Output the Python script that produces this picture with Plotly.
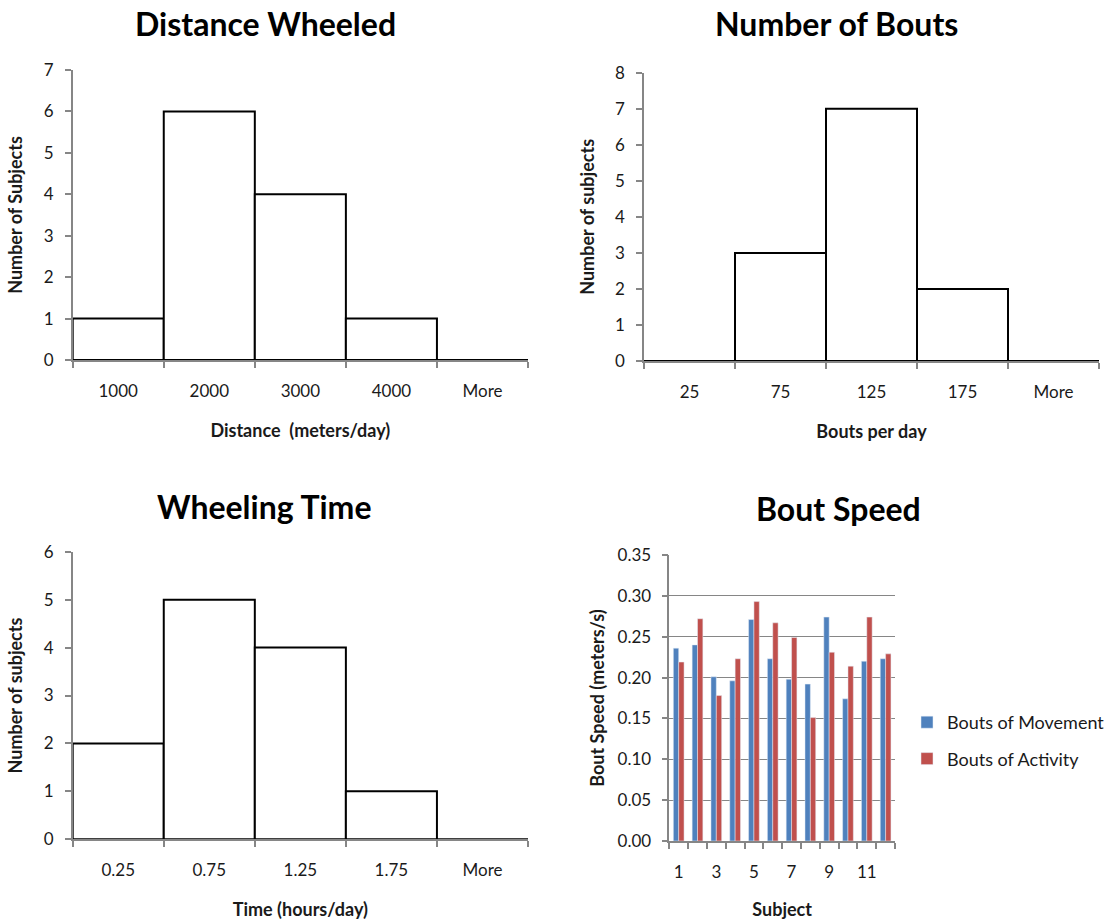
import plotly.graph_objects as go

# ---------------- data ----------------
dist_bins = ["1000", "2000", "3000", "4000", "More"]
dist_counts = [1, 6, 4, 1, 0]

bouts_bins = ["25", "75", "125", "175", "More"]
bouts_counts = [0, 3, 7, 2, 0]

time_bins = ["0.25", "0.75", "1.25", "1.75", "More"]
time_counts = [2, 5, 4, 1, 0]

subjects = ["1", "2", "3", "4", "5", "6", "7", "8", "9", "10", "11", "12"]
subject_labels = ["1", "", "3", "", "5", "", "7", "", "9", "", "11", ""]
movement_speed = [0.236, 0.240, 0.201, 0.196, 0.271, 0.223, 0.198, 0.192, 0.274, 0.174, 0.220, 0.223]
activity_speed = [0.219, 0.272, 0.178, 0.223, 0.293, 0.267, 0.249, 0.151, 0.231, 0.214, 0.274, 0.229]

FONT = "Lato, 'Open Sans', sans-serif"
TXT = "#1a1a1a"
AX = "#868686"
FW, FH = 1107, 923

def px_x(a, b):
    return [a / FW, b / FW]

def px_y(top, bottom):
    return [1 - bottom / FH, 1 - top / FH]

fig = go.Figure()

hist_specs = [
    ("x", "y", dist_bins, dist_counts),
    ("x2", "y2", bouts_bins, bouts_counts),
    ("x3", "y3", time_bins, time_counts),
]
for xa, ya, bins, counts in hist_specs:
    fig.add_trace(go.Bar(
        x=bins, y=counts, xaxis=xa, yaxis=ya,
        marker=dict(color="white", line=dict(color="black", width=2)),
        width=1.0, showlegend=False, hoverinfo="x+y",
    ))

fig.add_trace(go.Bar(
    x=subjects, y=movement_speed, xaxis="x4", yaxis="y4",
    name="Bouts of Movement", marker=dict(color="#4F81BD"),
    legendgroup="a",
))
fig.add_trace(go.Bar(
    x=subjects, y=activity_speed, xaxis="x4", yaxis="y4",
    name="Bouts of Activity", marker=dict(color="#C0504D"),
    legendgroup="b",
))

tickfont = dict(family=FONT, size=17, color=TXT)
titlefont = dict(family=FONT, size=18, color=TXT, weight="bold")

def hist_xaxis(domain, anchor, title):
    return dict(
        domain=domain, anchor=anchor, type="category", automargin=False,
        showline=True, linecolor=AX, linewidth=1.5,
        ticks="outside", tickson="boundaries", ticklen=6, tickcolor=AX, tickwidth=1.5,
        showgrid=False, zeroline=False, tickfont=tickfont, ticklabelstandoff=15,
        tickangle=0, range=[-0.5, 4.5],
        title=dict(text=title, font=titlefont, standoff=24),
    )

def hist_yaxis(domain, anchor, rng, title):
    return dict(
        domain=domain, anchor=anchor, range=rng, dtick=1, automargin=False,
        showline=True, linecolor=AX, linewidth=1.5,
        ticks="outside", ticklen=6, tickcolor=AX, tickwidth=1.5,
        showgrid=False, zeroline=False, tickfont=tickfont, ticklabelstandoff=8,
        title=dict(text=title, font=titlefont, standoff=16),
    )

fig.update_layout(
    width=FW, height=FH,
    margin=dict(l=0, r=0, t=0, b=0, autoexpand=False),
    paper_bgcolor="white", plot_bgcolor="white",
    barmode="group", bargap=0.43, bargroupgap=0,
    font=dict(family=FONT, color=TXT),
    xaxis=hist_xaxis(px_x(72.7, 528), "y", "Distance  (meters/day)"),
    yaxis=hist_yaxis(px_y(70, 360), "x", [0, 7], "Number of Subjects"),
    xaxis2=hist_xaxis(px_x(644, 1099), "y2", "Bouts per day"),
    yaxis2=hist_yaxis(px_y(72.7, 361), "x2", [0, 8], "Number of subjects"),
    xaxis3=hist_xaxis(px_x(72.7, 528), "y3", "Time (hours/day)"),
    yaxis3=hist_yaxis(px_y(551.7, 839.3), "x3", [0, 6], "Number of subjects"),
    xaxis4=dict(
        domain=px_x(669.3, 895), anchor="y4", type="category", automargin=False,
        tickmode="array", tickvals=subjects, ticktext=subject_labels, tickangle=0,
        showline=True, linecolor=AX, linewidth=1.5,
        ticks="outside", tickson="boundaries", ticklen=6, tickcolor=AX, tickwidth=1.5,
        showgrid=False, zeroline=False, tickfont=tickfont, ticklabelstandoff=15,
        title=dict(text="Subject", font=titlefont, standoff=22),
    ),
    yaxis4=dict(
        domain=px_y(555, 841), anchor="x4", range=[0, 0.35], dtick=0.05,
        tickformat=".2f", automargin=False,
        showline=True, linecolor=AX, linewidth=1.5,
        ticks="outside", ticklen=6, tickcolor=AX, tickwidth=1.5,
        showgrid=True, gridcolor=AX, gridwidth=1, zeroline=False,
        tickfont=tickfont, ticklabelstandoff=7,
        title=dict(text="Bout Speed (meters/s)", font=titlefont, standoff=8),
    ),
    legend=dict(
        x=907 / FW, y=1 - 704 / FH, xanchor="left", yanchor="top",
        font=dict(family=FONT, size=18, color=TXT),
        tracegroupgap=10, bgcolor="rgba(0,0,0,0)",
        itemwidth=30,
    ),
)

titles = [
    ("Distance Wheeled", 265, 24),
    ("Number of Bouts", 836.5, 24),
    ("Wheeling Time", 264, 506),
    ("Bout Speed", 838.5, 509),
]
for text, cx, cy in titles:
    fig.add_annotation(
        text=text, x=cx / FW, y=1 - cy / FH, xref="paper", yref="paper",
        xanchor="center", yanchor="middle", showarrow=False,
        font=dict(family=FONT, size=32, color="black", weight="bold"),
    )

fig.write_html("out.html", config={"displayModeBar": False},
               post_script="document.body.style.margin='0';")
